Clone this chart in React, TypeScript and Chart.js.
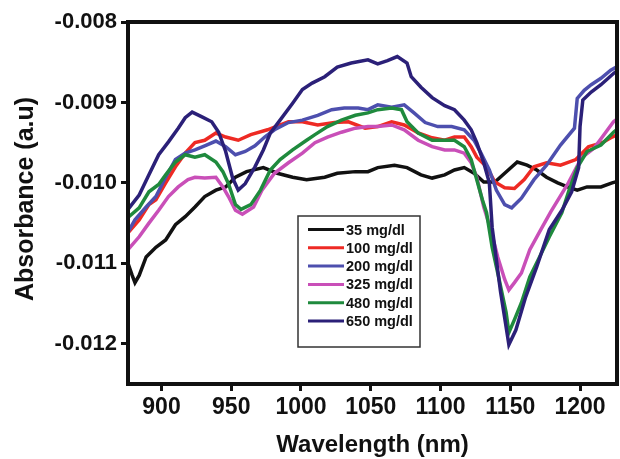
import { useEffect, useRef } from "react";
import { Chart, registerables } from "chart.js";

Chart.register(...registerables);

const xTicks = [900, 950, 1000, 1050, 1100, 1150, 1200];
const yTicks = [-0.008, -0.009, -0.01, -0.011, -0.012];
const seriesLabels = ["35 mg/dl", "100 mg/dl", "200 mg/dl", "325 mg/dl", "480 mg/dl", "650 mg/dl"];
const seriesColors = ["#111111", "#ee2a24", "#4d4fae", "#c94fb8", "#1f8a3d", "#2b2078"];

const nm35 = [876, 879, 881, 884, 889, 896, 903, 910, 917, 924, 931, 939, 946, 953, 961, 973, 983, 994, 1004, 1017, 1026, 1039, 1048, 1055, 1067, 1076, 1086, 1094, 1103, 1110, 1117, 1124, 1131, 1139, 1146, 1155, 1162, 1169, 1176, 1184, 1191, 1198, 1205, 1215, 1223, 1227];
const abs35 = [-11.0e-3, -11.15e-3, -11.24e-3, -11.15e-3, -10.92e-3, -10.8e-3, -10.71e-3, -10.52e-3, -10.42e-3, -10.3e-3, -10.17e-3, -10.09e-3, -10.05e-3, -9.93e-3, -9.86e-3, -9.81e-3, -9.88e-3, -9.93e-3, -9.96e-3, -9.93e-3, -9.88e-3, -9.86e-3, -9.86e-3, -9.81e-3, -9.78e-3, -9.81e-3, -9.9e-3, -9.94e-3, -9.9e-3, -9.84e-3, -9.81e-3, -9.88e-3, -9.99e-3, -9.99e-3, -9.88e-3, -9.74e-3, -9.78e-3, -9.84e-3, -9.93e-3, -10.0e-3, -10.05e-3, -10.09e-3, -10.05e-3, -10.05e-3, -10.0e-3, -9.98e-3];

const nm100 = [876, 884, 891, 896, 903, 910, 917, 924, 931, 939, 946, 955, 964, 976, 991, 1001, 1012, 1024, 1034, 1046, 1055, 1065, 1074, 1084, 1094, 1103, 1110, 1117, 1122, 1126, 1133, 1139, 1146, 1153, 1160, 1167, 1176, 1186, 1197, 1206, 1216, 1223, 1227];
const abs100 = [-10.62e-3, -10.46e-3, -10.27e-3, -10.21e-3, -10.0e-3, -9.8e-3, -9.63e-3, -9.5e-3, -9.47e-3, -9.38e-3, -9.43e-3, -9.47e-3, -9.4e-3, -9.34e-3, -9.24e-3, -9.24e-3, -9.28e-3, -9.25e-3, -9.24e-3, -9.32e-3, -9.3e-3, -9.24e-3, -9.28e-3, -9.38e-3, -9.44e-3, -9.47e-3, -9.43e-3, -9.43e-3, -9.55e-3, -9.68e-3, -9.8e-3, -9.99e-3, -10.06e-3, -10.07e-3, -9.96e-3, -9.8e-3, -9.75e-3, -9.78e-3, -9.71e-3, -9.55e-3, -9.5e-3, -9.43e-3, -9.4e-3];

const nm200 = [876, 881, 889, 896, 903, 910, 917, 924, 931, 939, 946, 953, 960, 967, 974, 981, 991, 1001, 1012, 1022, 1031, 1041, 1048, 1055, 1065, 1074, 1081, 1089, 1098, 1108, 1117, 1124, 1129, 1135, 1140, 1146, 1151, 1158, 1167, 1176, 1186, 1196, 1198, 1203, 1208, 1215, 1222, 1227];
const abs200 = [-10.61e-3, -10.46e-3, -10.3e-3, -10.17e-3, -9.93e-3, -9.71e-3, -9.63e-3, -9.59e-3, -9.54e-3, -9.48e-3, -9.55e-3, -9.65e-3, -9.61e-3, -9.54e-3, -9.43e-3, -9.34e-3, -9.25e-3, -9.22e-3, -9.16e-3, -9.09e-3, -9.07e-3, -9.07e-3, -9.09e-3, -9.03e-3, -9.06e-3, -9.03e-3, -9.13e-3, -9.25e-3, -9.3e-3, -9.3e-3, -9.34e-3, -9.47e-3, -9.63e-3, -9.84e-3, -10.09e-3, -10.27e-3, -10.31e-3, -10.19e-3, -9.96e-3, -9.78e-3, -9.53e-3, -9.32e-3, -8.95e-3, -8.85e-3, -8.78e-3, -8.7e-3, -8.6e-3, -8.55e-3];

const nm325 = [876, 884, 891, 898, 905, 912, 919, 924, 931, 939, 944, 948, 953, 958, 966, 972, 981, 991, 1001, 1010, 1019, 1029, 1039, 1048, 1055, 1065, 1074, 1084, 1094, 1103, 1110, 1117, 1122, 1126, 1131, 1136, 1141, 1146, 1149, 1153, 1158, 1164, 1171, 1179, 1191, 1201, 1210, 1224, 1227];
const abs325 = [-10.83e-3, -10.67e-3, -10.5e-3, -10.34e-3, -10.17e-3, -10.05e-3, -9.96e-3, -9.93e-3, -9.94e-3, -9.93e-3, -10.05e-3, -10.17e-3, -10.34e-3, -10.39e-3, -10.3e-3, -10.09e-3, -9.88e-3, -9.75e-3, -9.63e-3, -9.5e-3, -9.43e-3, -9.37e-3, -9.32e-3, -9.3e-3, -9.3e-3, -9.28e-3, -9.34e-3, -9.47e-3, -9.55e-3, -9.59e-3, -9.59e-3, -9.63e-3, -9.75e-3, -9.93e-3, -10.3e-3, -10.58e-3, -10.92e-3, -11.2e-3, -11.33e-3, -11.24e-3, -11.12e-3, -10.83e-3, -10.61e-3, -10.36e-3, -10.02e-3, -9.69e-3, -9.57e-3, -9.24e-3, -9.2e-3];

const nm480 = [876, 884, 891, 898, 903, 910, 917, 924, 931, 939, 944, 948, 953, 957, 964, 971, 978, 985, 994, 1004, 1010, 1019, 1029, 1039, 1048, 1055, 1065, 1072, 1076, 1084, 1094, 1103, 1110, 1117, 1122, 1126, 1130, 1133, 1137, 1142, 1147, 1149, 1153, 1158, 1164, 1171, 1178, 1187, 1192, 1198, 1205, 1215, 1224, 1227];
const abs480 = [-10.43e-3, -10.31e-3, -10.11e-3, -10.02e-3, -9.9e-3, -9.74e-3, -9.65e-3, -9.68e-3, -9.65e-3, -9.74e-3, -9.86e-3, -10.01e-3, -10.27e-3, -10.33e-3, -10.27e-3, -10.09e-3, -9.84e-3, -9.71e-3, -9.59e-3, -9.47e-3, -9.4e-3, -9.3e-3, -9.22e-3, -9.16e-3, -9.13e-3, -9.09e-3, -9.07e-3, -9.09e-3, -9.24e-3, -9.38e-3, -9.47e-3, -9.47e-3, -9.47e-3, -9.55e-3, -9.71e-3, -9.96e-3, -10.21e-3, -10.37e-3, -10.8e-3, -11.2e-3, -11.61e-3, -11.86e-3, -11.7e-3, -11.49e-3, -11.17e-3, -10.92e-3, -10.67e-3, -10.37e-3, -10.1e-3, -9.81e-3, -9.61e-3, -9.53e-3, -9.37e-3, -9.33e-3];

const nm650 = [876, 884, 891, 898, 905, 912, 917, 922, 929, 936, 941, 946, 951, 955, 960, 967, 973, 978, 985, 994, 1001, 1008, 1017, 1026, 1036, 1048, 1055, 1062, 1069, 1076, 1079, 1086, 1094, 1103, 1110, 1117, 1122, 1126, 1131, 1135, 1137, 1140, 1143, 1146, 1149, 1154, 1161, 1169, 1178, 1187, 1194, 1199, 1200, 1202, 1208, 1215, 1224, 1227];
const abs650 = [-10.33e-3, -10.15e-3, -9.9e-3, -9.65e-3, -9.49e-3, -9.32e-3, -9.19e-3, -9.12e-3, -9.18e-3, -9.24e-3, -9.37e-3, -9.61e-3, -9.94e-3, -10.09e-3, -10.01e-3, -9.8e-3, -9.59e-3, -9.38e-3, -9.22e-3, -9.01e-3, -8.84e-3, -8.76e-3, -8.68e-3, -8.56e-3, -8.51e-3, -8.47e-3, -8.52e-3, -8.48e-3, -8.43e-3, -8.51e-3, -8.68e-3, -8.81e-3, -8.94e-3, -9.04e-3, -9.09e-3, -9.22e-3, -9.34e-3, -9.5e-3, -9.75e-3, -10.0e-3, -10.55e-3, -10.95e-3, -11.35e-3, -11.68e-3, -12.01e-3, -11.83e-3, -11.42e-3, -11.04e-3, -10.58e-3, -10.34e-3, -10.11e-3, -9.81e-3, -9.3e-3, -8.97e-3, -8.87e-3, -8.78e-3, -8.64e-3, -8.6e-3];

const FONT = 'Arial, "Liberation Sans", sans-serif';

export default function App() {
  const ref = useRef<HTMLCanvasElement>(null);

  useEffect(() => {
    const canvas = ref.current;
    if (!canvas) return;
    const pairs: [number[], number[]][] = [
      [nm35, abs35],
      [nm100, abs100],
      [nm200, abs200],
      [nm325, abs325],
      [nm480, abs480],
      [nm650, abs650],
    ];
    const datasets = pairs.map(([xs, ys], i) => ({
      label: seriesLabels[i],
      data: xs.map((x, j) => ({ x, y: ys[j] })),
      borderColor: seriesColors[i],
      backgroundColor: seriesColors[i],
      borderWidth: 3.5,
      pointRadius: 0,
      tension: 0,
      order: pairs.length - i,
    }));

    const decor = {
      id: "decor",
      afterDraw(chart: any) {
        const { ctx, chartArea: a } = chart;
        ctx.save();
        // legend box
        const lx = 298, ly = 216, lw = 122, lh = 131;
        ctx.fillStyle = "#ffffff";
        ctx.fillRect(lx, ly, lw, lh);
        ctx.strokeStyle = "#333333";
        ctx.lineWidth = 1.5;
        ctx.strokeRect(lx, ly, lw, lh);
        ctx.font = `bold 14.5px ${FONT}`;
        ctx.textBaseline = "middle";
        ctx.textAlign = "left";
        seriesLabels.forEach((lab, i) => {
          const y = 229.5 + i * 18.3;
          ctx.strokeStyle = seriesColors[i];
          ctx.lineWidth = 3;
          ctx.beginPath();
          ctx.moveTo(308, y);
          ctx.lineTo(344, y);
          ctx.stroke();
          ctx.fillStyle = "#111111";
          ctx.fillText(lab, 346, y + 1);
        });
        // frame
        ctx.strokeStyle = "#111111";
        ctx.lineWidth = 4;
        ctx.strokeRect(a.left, a.top, a.right - a.left, a.bottom - a.top);
        // axis titles
        ctx.fillStyle = "#111111";
        ctx.font = `bold 24px ${FONT}`;
        ctx.textAlign = "center";
        ctx.textBaseline = "alphabetic";
        ctx.fillText("Wavelength (nm)", (a.left + a.right) / 2, 452);
        ctx.font = `bold 25px ${FONT}`;
        ctx.translate(33, 199);
        ctx.rotate(-Math.PI / 2);
        ctx.fillText("Absorbance (a.u)", 0, 0);
        ctx.restore();
      },
    };

    const chart = new Chart(canvas, {
      type: "line",
      data: { datasets },
      plugins: [decor],
      options: {
        animation: false,
        responsive: false,
        maintainAspectRatio: false,
        layout: { padding: { left: 0, top: 22, right: 3, bottom: 0 } },
        plugins: { legend: { display: false }, tooltip: { enabled: false } },
        scales: {
          x: {
            type: "linear",
            min: 876,
            max: 1226.5,
            afterBuildTicks: (s: any) => {
              s.ticks = xTicks.map((v) => ({ value: v }));
            },
            afterFit: (s: any) => {
              s.height = 75;
            },
            grid: {
              display: true,
              drawOnChartArea: false,
              drawTicks: true,
              tickLength: 7,
              tickWidth: 3,
              tickColor: "#111111",
            },
            border: { display: false },
            ticks: {
              autoSkip: false,
              maxRotation: 0,
              padding: 3,
              color: "#111111",
              font: { family: FONT, size: 23, weight: "bold" },
              callback: (v: any) => String(v),
            },
          },
          y: {
            type: "linear",
            min: -0.0125,
            max: -0.008,
            afterBuildTicks: (s: any) => {
              s.ticks = yTicks.map((v) => ({ value: v }));
            },
            afterFit: (s: any) => {
              s.width = 128;
            },
            grid: {
              display: true,
              drawOnChartArea: false,
              drawTicks: true,
              tickLength: 7,
              tickWidth: 3,
              tickColor: "#111111",
            },
            border: { display: false },
            ticks: {
              autoSkip: false,
              padding: 4,
              color: "#111111",
              font: { family: FONT, size: 22, weight: "bold" },
              callback: (v: any) => Number(v).toFixed(3),
            },
          },
        },
      },
    });
    return () => chart.destroy();
  }, []);

  return (
    <div style={{ position: "fixed", left: 0, top: 0, width: 620, height: 459, background: "#ffffff" }}>
      <canvas ref={ref} width={620} height={459} style={{ display: "block", width: 620, height: 459 }} />
    </div>
  );
}
